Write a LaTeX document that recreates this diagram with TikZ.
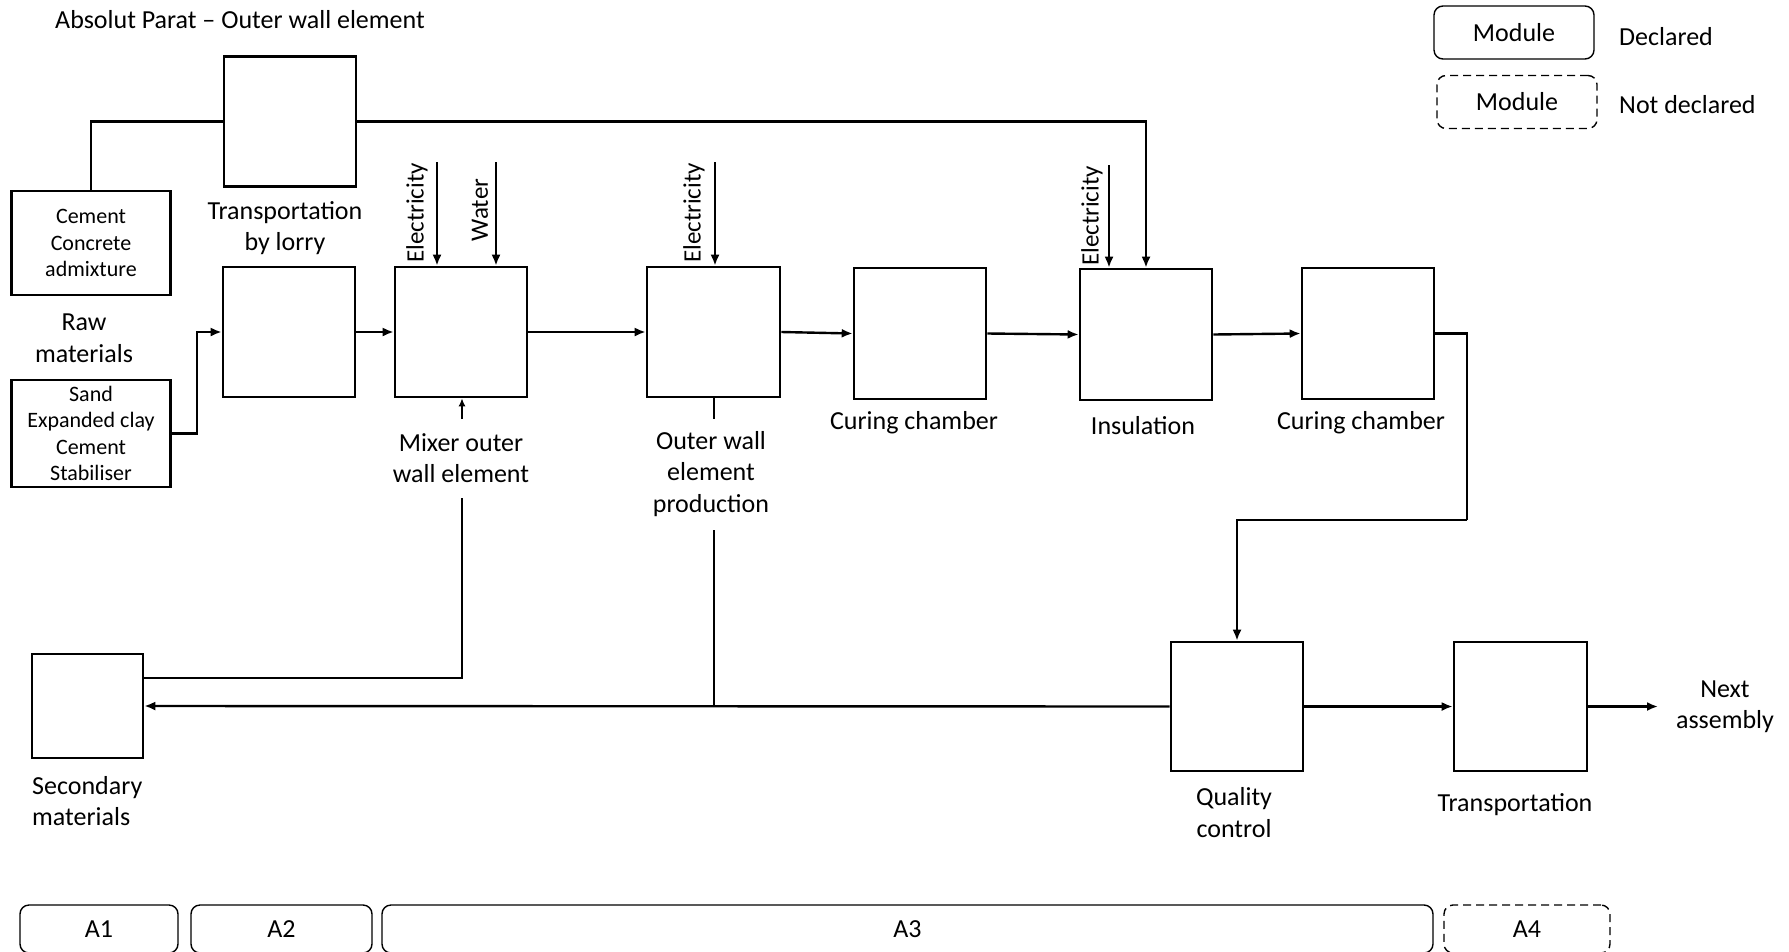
\documentclass[tikz,border=0pt]{standalone}
\usepackage{fontspec}
\setmainfont{Carlito}
\usetikzlibrary{arrows.meta}
\begin{document}
\begin{tikzpicture}[x=1pt,y=-1pt,
  box/.style={draw, line width=2.6pt, inner sep=0pt, minimum width=132pt, minimum height=130pt},
  lbl/.style={font=\fontsize{26}{31.5}\selectfont, align=center, inner sep=0pt},
  small/.style={font=\fontsize{22}{26.5}\selectfont, align=center},
  rot/.style={font=\fontsize{25}{30}\selectfont, rotate=90, inner sep=0pt},
  conn/.style={line width=2.4pt},
  arr/.style={conn, -{Latex[length=11pt,width=9pt]}},
  leg/.style={draw, line width=1.4pt, rounded corners=9pt, minimum width=160pt, minimum height=53pt, font=\fontsize{26}{31.5}\selectfont, inner sep=0pt},
  bar/.style={draw, line width=1.4pt, rounded corners=9pt, minimum height=48pt, font=\fontsize{26}{31.5}\selectfont, inner sep=0pt},
]
\useasboundingbox (0,0) rectangle (1789,951);

% title
\node[lbl, anchor=west] (title) at (55,20) {Absolut Parat – Outer wall element};

% legend
\node[leg] (legA) at (1514,32.5) {Module};
\node[leg, dashed, dash pattern=on 8pt off 5pt] (legB) at (1517,102) {Module};
\node[lbl, anchor=west] (legAt) at (1619,37) {Declared};
\node[lbl, anchor=west] (legBt) at (1619,105) {Not declared};

% boxes
\node[box] (T1) at (290,121.5) {};
\node[box, small, minimum width=159pt, minimum height=104pt] (cement) at (91,243) {Cement\\Concrete\\admixture};
\node[box] (T2) at (289,332) {};
\node[box, small, minimum width=159pt, minimum height=107pt] (sand) at (91,433.5) {Sand\\Expanded clay\\Cement\\Stabiliser};
\node[box] (mixer) at (461,332) {};
\node[box, minimum width=133pt] (prod) at (713.5,332) {};
\node[box, minimum height=131pt] (cur1) at (920,333.5) {};
\node[box, minimum height=131pt] (ins) at (1146,334.5) {};
\node[box, minimum height=131pt] (cur2) at (1368,333.5) {};
\node[box, minimum width=111pt, minimum height=104pt] (sec) at (87.5,706) {};
\node[box, minimum height=129pt] (qc) at (1237,706.5) {};
\node[box, minimum width=133pt, minimum height=129pt] (tr) at (1520.5,706.5) {};

% labels
\node[lbl] (lT1) at (285,228) {Transportation\\by lorry};
\node[lbl] (lraw) at (84,338) {Raw\\materials};
\node[lbl] (lmix) at (461,458) {Mixer outer\\wall element};
\node[lbl] (lprod) at (711,474) {Outer wall\\element\\production};
\node[lbl] (lcur1) at (914,423) {Curing chamber};
\node[lbl] (lins) at (1143,426) {Insulation};
\node[lbl] (lcur2) at (1361,423) {Curing chamber};
\node[lbl, align=left, anchor=west] (lsec) at (32,801) {Secondary\\materials};
\node[lbl] (lqc) at (1234,812.5) {Quality\\control};
\node[lbl] (ltr) at (1515,805) {Transportation};
\node[lbl] (lnext) at (1725,706.5) {Next\\assembly};

% input labels (rotated)
\node[rot] (el1) at (417,213) {Electricity};
\node[rot] (wat) at (480,210) {Water};
\node[rot] (el2) at (694,213) {Electricity};
\node[rot] (el3) at (1092,216) {Electricity};

% input coordinates
\coordinate (e1) at (437,162);
\coordinate (w1) at (496,162);
\coordinate (e2) at (715,162);
\coordinate (e3) at (1109,165);
\coordinate (mixin) at (462,419);
\coordinate (mixout) at (462,498);
\coordinate (prodstub) at (714,419);
\coordinate (prodout) at (714,530);
\coordinate (c2turn) at (1467,520);
\coordinate (nextpt) at (1658,706.5);

% connectors
\draw[conn] (cement.north) |- (T1.west);
\draw[arr] (T1.east) -| (ins.north);
\draw[arr] (sand.east) -- ++(25,0) |- (T2.west);
\draw[arr] (T2.east) -- (mixer.west);
\draw[arr] (mixer.east) -- (prod.west);
\draw[arr] (prod.east) -- (cur1.west);
\draw[arr] (cur1.east) -- (ins.west);
\draw[arr] (ins.east) -- (cur2.west);
\draw[conn] (cur2.east) -| (c2turn);
\draw[arr] (c2turn) -| (qc.north);

\draw[arr] (e1) -- (e1 |- mixer.north);
\draw[arr] (w1) -- (w1 |- mixer.north);
\draw[arr] (e2) -- (e2 |- prod.north);
\draw[arr] (e3) -- (e3 |- ins.north);
\draw[conn, -{Latex[length=8pt,width=7pt]}] (mixin) -- (mixin |- mixer.south);

\draw[conn] (prod.south -| prodstub) -- (prodstub);
\draw[conn] (mixout) |- ([yshift=28pt]sec.east);
\draw[conn] (prodout) -- (prodout |- qc.west);
\draw[arr] (qc.west) -- (sec.east);
\draw[arr] (qc.east) -- (tr.west);
\draw[arr] (tr.east) -- (nextpt);

% phase bars
\node[bar, minimum width=158pt] (A1) at (99,929) {A1};
\node[bar, minimum width=181pt] (A2) at (281.5,929) {A2};
\node[bar, minimum width=1051pt] (A3) at (907.5,929) {A3};
\node[bar, minimum width=166pt, dashed, dash pattern=on 8pt off 5pt] (A4) at (1527,929) {A4};
\end{tikzpicture}
\end{document}
